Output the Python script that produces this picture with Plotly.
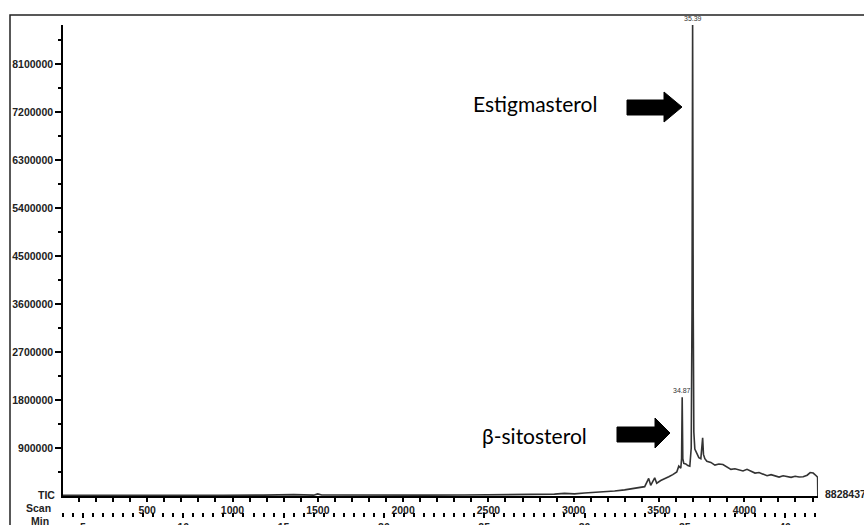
import plotly.graph_objects as go

# ---------------- data ----------------
RET_MIN = [4.0, 6.0, 8.0, 10.0, 12.0, 14.0, 15.5, 16.5, 16.7, 16.9, 18.0, 20.0, 22.0, 24.0, 26.0,
           27.5, 28.5, 29.0, 29.5, 30.0, 30.5, 31.0, 31.5, 32.0, 32.5, 33.0, 33.2, 33.3, 33.5, 33.6,
           33.8, 34.0, 34.2, 34.4, 34.6, 34.7, 34.8, 34.84, 34.87, 34.9, 34.95, 35.05, 35.15, 35.25,
           35.32, 35.36, 35.39, 35.42, 35.45, 35.5, 35.6, 35.7, 35.8, 35.86, 35.89, 35.93, 36.0, 36.1,
           36.3, 36.5, 36.7, 36.9, 37.1, 37.3, 37.5, 37.7, 37.9, 38.1, 38.3, 38.5, 38.7, 38.9, 39.1,
           39.3, 39.5, 39.7, 39.9, 40.1, 40.3, 40.5, 40.7, 40.9, 41.1, 41.25, 41.4, 41.55, 41.62, 41.63]
TIC = [15000, 12000, 16000, 14000, 15000, 17000, 25000, 16000, 40000, 18000, 15000, 16000, 17000, 18000, 20000,
       28000, 35000, 50000, 40000, 55000, 65000, 80000, 95000, 115000, 140000, 175000, 330000, 200000, 340000, 240000,
       290000, 320000, 360000, 400000, 450000, 560000, 520000, 700000, 1850000, 700000, 610000, 600000, 570000, 560000,
       900000, 3500000, 8828437, 3500000, 1200000, 880000, 780000, 720000, 700000, 900000, 1090000, 780000, 700000, 650000,
       630000, 580000, 600000, 590000, 550000, 500000, 510000, 490000, 470000, 500000, 470000, 430000, 440000, 410000, 380000,
       400000, 370000, 355000, 380000, 360000, 350000, 370000, 355000, 360000, 390000, 440000, 430000, 380000, 350000, 0]

Y_TICKS = [900000, 1800000, 2700000, 3600000, 4500000, 5400000, 6300000, 7200000, 8100000]
Y_MAX = 8828437
SCAN_TICKS = [500, 1000, 1500, 2000, 2500, 3000, 3500, 4000]
SCAN_RANGE = [6.4, 4432]
MIN_RANGE = [4.003, 41.64]
PEAKS = [(35.39, 8828437, "35.39"), (34.87, 1850000, "34.87")]

# --------------- layout helpers (pixel -> paper) ---------------
L, R, T = 63, 818, 25
W, H = 864, 525


def fx(px):
    return (px - L) / (R - L)


def fy(py):
    return (H - py) / (H - T)


FONT = dict(family="Liberation Sans, Arial", size=10.5, color="#222", weight="bold")

fig = go.Figure()
fig.add_trace(go.Scatter(x=RET_MIN, y=TIC, mode="lines", xaxis="x2", yaxis="y",
                         line=dict(color="#333333", width=1.6), showlegend=False,
                         hoverinfo="skip"))
fig.add_trace(go.Scatter(x=[SCAN_RANGE[0]], y=[0], mode="markers", xaxis="x", yaxis="y",
                         marker=dict(opacity=0), showlegend=False, hoverinfo="skip"))

minor_y = [v - Y_TICKS[0] / 2 for v in Y_TICKS] + [Y_TICKS[-1] + Y_TICKS[0] / 2]

fig.update_layout(
    width=W, height=H,
    margin=dict(l=L, r=W - R, t=T, b=0, autoexpand=False),
    paper_bgcolor="white", plot_bgcolor="white",
    showlegend=False,
    yaxis=dict(domain=[fy(496), 1], range=[0, Y_MAX], tickvals=Y_TICKS, tickformat="d",
               ticks="outside", ticklen=6, tickwidth=1.5, tickcolor="black",
               showline=True, linewidth=1.5, linecolor="black", automargin=False,
               showgrid=False, zeroline=False, tickfont=FONT,
               minor=dict(tickvals=minor_y, ticks="outside", ticklen=3, tickwidth=1.5,
                          tickcolor="black", showgrid=False)),
    xaxis=dict(anchor="y", range=SCAN_RANGE, tickvals=SCAN_TICKS, automargin=False,
               ticks="outside", ticklen=4, tickwidth=1.5, tickcolor="black",
               showline=True, linewidth=1.5, linecolor="black",
               showgrid=False, zeroline=False, tickfont=FONT,
               minor=dict(dtick=100, tick0=0, ticks="outside", ticklen=4, tickwidth=1.5,
                          tickcolor="black", showgrid=False)),
    xaxis2=dict(overlaying="x", anchor="free", position=fy(512), side="bottom",
                range=MIN_RANGE, dtick=5, tick0=0, automargin=False,
                ticks="outside", ticklen=5, tickwidth=1.5, tickcolor="black",
                showline=False, showgrid=False, zeroline=False, tickfont=FONT,
                minor=dict(dtick=0.5, tick0=0, ticks="outside", ticklen=4, tickwidth=1.5,
                           tickcolor="black", showgrid=False)),
)

# peak labels
for xm, yv, txt in PEAKS:
    fig.add_annotation(x=xm, y=yv, xref="x2", yref="y", text=txt, showarrow=False,
                       yanchor="bottom", yshift=1,
                       font=dict(family="Liberation Sans, Arial", size=7, color="#333"))

# row labels and max value
for txt, py, px in [("TIC", 495, 57), ("Scan", 508, 53), ("Min", 521, 51)]:
    fig.add_annotation(x=fx(px), y=fy(py), xref="paper", yref="paper", text=txt,
                       showarrow=False, xanchor="right", yanchor="middle", font=FONT)
fig.add_annotation(x=fx(823), y=fy(494), xref="paper", yref="paper", text="8828437",
                   showarrow=False, xanchor="left", yanchor="middle", font=FONT)

# compound labels
LABEL_FONT = dict(family="Lato, Open Sans", size=21, color="black")
fig.add_annotation(x=fx(599), y=fy(103), xref="paper", yref="paper", text="Estigmasterol",
                   showarrow=False, xanchor="right", yanchor="middle", font=LABEL_FONT)
fig.add_annotation(x=fx(589), y=fy(435), xref="paper", yref="paper", text="β-sitosterol",
                   showarrow=False, xanchor="right", yanchor="middle", font=LABEL_FONT)


def block_arrow(x0, xh, xt, ys0, ys1, yh0, yh1):
    yt = (yh0 + yh1) / 2
    pts = [(x0, ys0), (xh, ys0), (xh, yh0), (xt, yt), (xh, yh1), (xh, ys1), (x0, ys1)]
    return "M " + " L ".join(f"{fx(a):.5f},{fy(b):.5f}" for a, b in pts) + " Z"


fig.add_shape(type="path", xref="paper", yref="paper",
              path=block_arrow(627, 664, 682, 100, 115, 92, 122),
              fillcolor="black", line=dict(color="black", width=1))
fig.add_shape(type="path", xref="paper", yref="paper",
              path=block_arrow(617, 655, 670, 427, 442, 418, 448),
              fillcolor="black", line=dict(color="black", width=1))

# outer frame
fig.add_shape(type="rect", xref="paper", yref="paper",
              x0=fx(10), x1=fx(900), y0=fy(560), y1=fy(15),
              line=dict(color="#222", width=1.5), fillcolor="rgba(0,0,0,0)")

fig.write_html("out.html")
